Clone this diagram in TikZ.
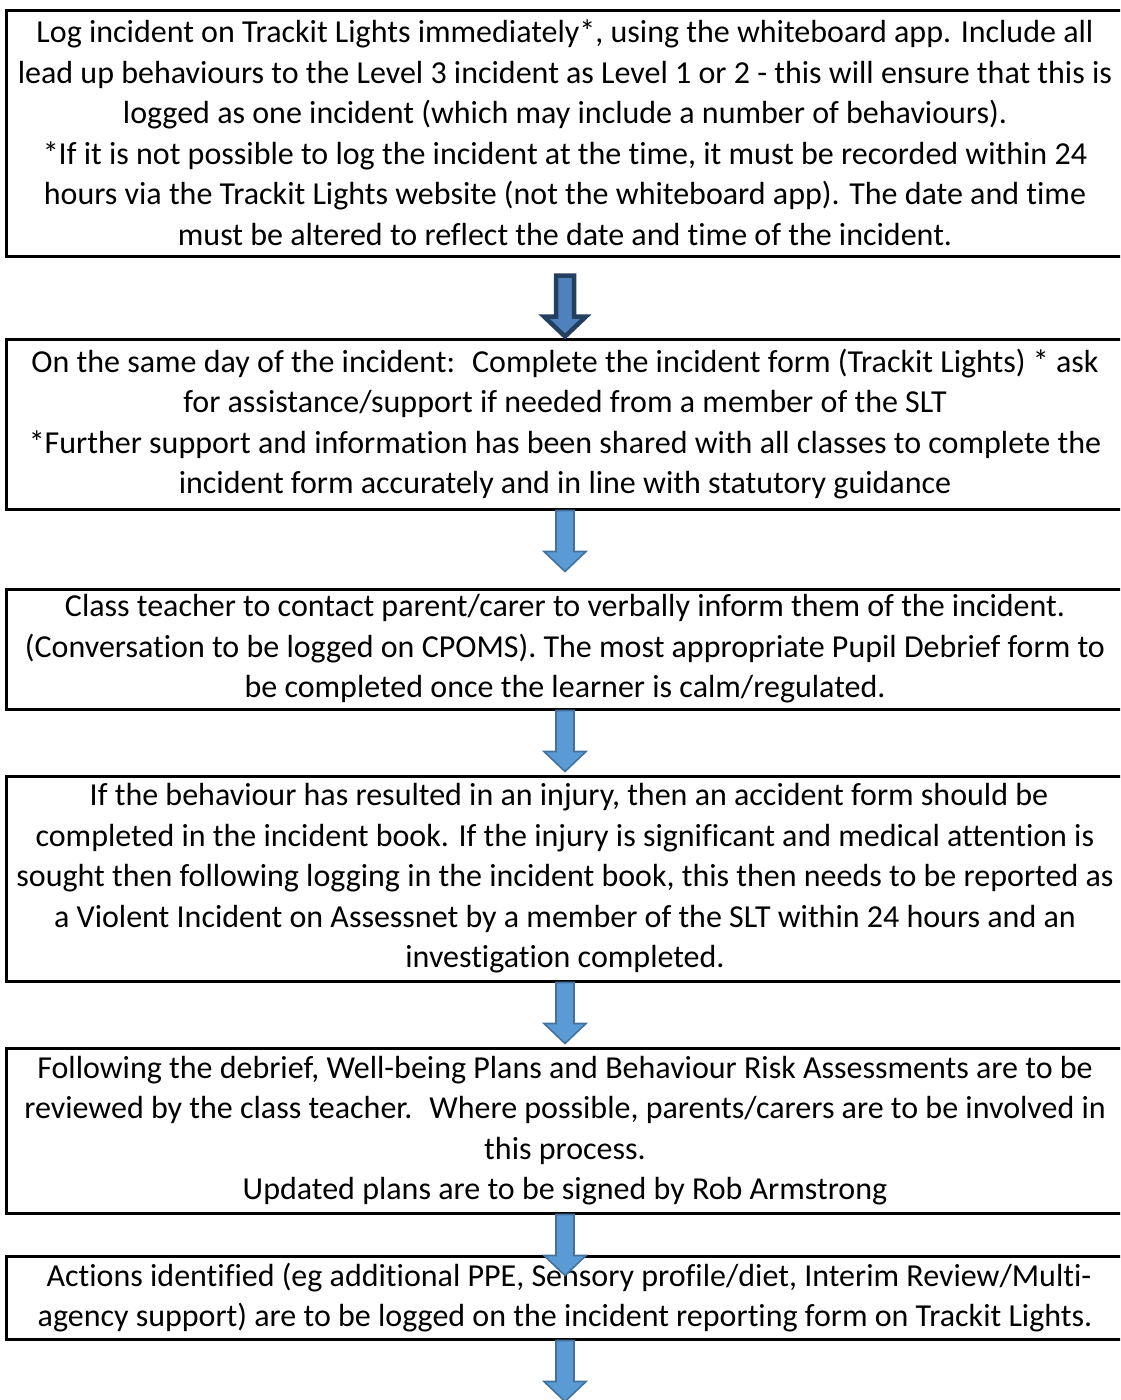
\documentclass[tikz,border=0pt]{standalone}
\usepackage{fontspec}
\setmainfont{Carlito}[RawFeature={-liga;-clig;-calt;-dlig;-rlig}]
\usetikzlibrary{calc,positioning}
\definecolor{arrfill}{RGB}{91,155,213}
\definecolor{arrline}{RGB}{65,113,156}
\definecolor{firstfill}{RGB}{79,129,189}
\definecolor{firstline}{RGB}{36,64,97}
\tikzset{
  stepbox/.style={draw, line width=3pt, minimum width=1118pt, minimum height=#1, align=center, inner sep=0pt, font=\fontsize{32}{40.5}\selectfont},
  downarrow/.pic={\path[pic actions] (-9,0) -- (-9,41) -- (-21,41) -- (0,61) -- (21,41) -- (9,41) -- (9,0) -- cycle;},
  flow/.style={fill=arrfill, draw=arrline, line width=1.6pt},
  firstflow/.style={fill=firstfill, draw=firstline, line width=4.5pt},
}

\begin{document}
\begin{tikzpicture}[x=1pt, y=-1pt]
  \useasboundingbox (0,0) rectangle (1120,1400);
  \clip (0,0) rectangle (1120,1400);
  % steps, top to bottom
  \node[stepbox=246pt] (b1) at (565,133) {Log incident on Trackit Lights immediately*, using the whiteboard app. Include all\\
  lead up behaviours to the Level 3 incident as Level 1 or 2 - this will ensure that this is\\
  logged as one incident (which may include a number of behaviours).\\
  *If it is not possible to log the incident at the time, it must be recorded within 24\\
  hours via the Trackit Lights website (not the whiteboard app). The date and time\\
  must be altered to reflect the date and time of the incident.};
  \node[stepbox=170pt] (b2) at (565,424) {On the same day of the incident:~ Complete the incident form (Trackit Lights) * ask\\
  for assistance/support if needed from a member of the SLT\\
  *Further support and information has been shared with all classes to complete the\\
  incident form accurately and in line with statutory guidance};
  \node[stepbox=120pt] (b3) at (565,649) {Class teacher to contact parent/carer to verbally inform them of the incident.\\
  (Conversation to be logged on CPOMS). The most appropriate Pupil Debrief form to\\
  be completed once the learner is calm/regulated.};
  \node[stepbox=205pt] (b4) at (565,878.5) {\hspace*{0.25em}If the behaviour has resulted in an injury, then an accident form should be\\
  completed in the incident book. If the injury is significant and medical attention is\\
  sought then following logging in the incident book, this then needs to be reported as\\
  a Violent Incident on Assessnet by a member of the SLT within 24 hours and an\\
  investigation completed.};
  \node[stepbox=165pt] (b5) at (565,1130.5) {Following the debrief, Well-being Plans and Behaviour Risk Assessments are to be\\
  reviewed by the class teacher.~ Where possible, parents/carers are to be involved in\\
  this process.\\
  Updated plans are to be signed by Rob Armstrong};
  \node[stepbox=83pt] (b6) at (565,1297.5) {\hspace*{0.25em}Actions identified (eg additional PPE, Sensory profile/diet, Interim Review/Multi-\\
  agency support) are to be logged on the incident reporting form on Trackit Lights.};
  % block arrows
  \pic[firstflow] at ($(b1.south)+(0,18)$) {downarrow};
  \pic[flow] at (b2.south) {downarrow};
  \pic[flow] at (b3.south) {downarrow};
  \pic[flow] at (b4.south) {downarrow};
  \pic[flow] at (b5.south) {downarrow};
  \pic[flow] at (b6.south) {downarrow};
\end{tikzpicture}
\end{document}
